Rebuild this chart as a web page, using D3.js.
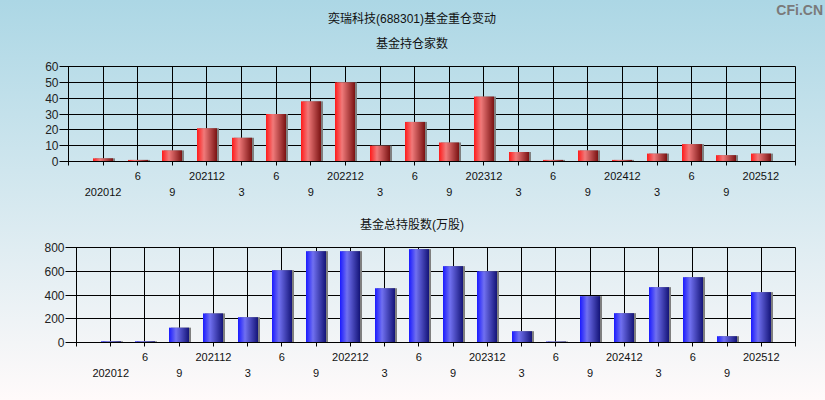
<!DOCTYPE html>
<html><head><meta charset="utf-8">
<script src="https://cdn.jsdelivr.net/npm/d3@7"></script>
<style>html,body{margin:0;padding:0;overflow:hidden}svg{display:block}</style>
</head><body>
<script>
const categories = ["202012","202106","202109","202112","202203","202206","202209","202212","202303","202306","202309","202312","202403","202406","202409","202412","202503","202506","202509","202512"];
const tickLabels = ["202012","6","9","202112","3","6","9","202212","3","6","9","202312","3","6","9","202412","3","6","9","202512"];
const fundCounts = [2,1,7,21,15,30,38,50,10,25,12,41,6,1,7,1,5,11,4,5];
const fundShares = [10,10,125,245,213,609,769,769,457,786,643,600,95,8,390,247,466,550,53,424];
const countTicks = [0,10,20,30,40,50,60];
const shareTicks = [0,200,400,600,800];

const W = 825, H = 400;
const svg = d3.select("body").append("svg").attr("width", W).attr("height", H);
const defs = svg.append("defs");
const bg = defs.append("linearGradient").attr("id","bg").attr("x1",0).attr("y1",0).attr("x2",0).attr("y2",1);
bg.append("stop").attr("offset","0%").attr("stop-color","#acd7e5");
bg.append("stop").attr("offset","100%").attr("stop-color","#fffafa");
function barGrad(id, c0, c1, c2) {
  const g = defs.append("linearGradient").attr("id", id).attr("x1",0).attr("y1",0).attr("x2",1).attr("y2",0);
  g.append("stop").attr("offset","0%").attr("stop-color",c0);
  g.append("stop").attr("offset","35%").attr("stop-color",c1);
  g.append("stop").attr("offset","100%").attr("stop-color",c2);
}
barGrad("gRed", "#ff1a1a", "#f07a7a", "#7a1212");
barGrad("gBlue", "#1a1aff", "#7070f0", "#141478");

svg.append("rect").attr("width",W).attr("height",H).attr("fill","url(#bg)");

const cjk = "'Liberation Sans', Arial, 'Noto Sans CJK SC', sans-serif";

svg.append("text").attr("x",412).attr("y",23).attr("text-anchor","middle")
  .attr("font-family",cjk).attr("font-size",12).attr("fill","#111").text("奕瑞科技(688301)基金重仓变动");
svg.append("text").attr("x",823).attr("y",15).attr("text-anchor","end")
  .attr("font-family","'Liberation Sans', Arial, sans-serif").attr("font-weight","bold").attr("font-size",14).attr("fill","#7a7a7a").text("CFi.CN");

function panel(opts) {
  const {left, right, top, bottom, values, ticks, max, grad, title, titleY, tickLen, row1, row2} = opts;
  const x = d3.scaleLinear().domain([-1, categories.length]).range([left, right]);
  const y = d3.scaleLinear().domain([0, max]).range([bottom, top]);
  const g = svg.append("g");
  g.append("text").attr("x",412).attr("y",titleY).attr("text-anchor","middle")
    .attr("font-family",cjk).attr("font-size",12).attr("fill","#111").text(title);
  const px = v => Math.round(v - 0.5) + 0.5;
  ticks.forEach(t => {
    const yy = px(y(t));
    g.append("line").attr("x1",left - tickLen).attr("x2",right).attr("y1",yy).attr("y2",yy)
      .attr("stroke","#000").attr("stroke-width",1);
    g.append("text").attr("x",left - tickLen - 1).attr("y",yy).attr("dy","0.36em").attr("text-anchor","end")
      .attr("font-family","'Liberation Sans', Arial, sans-serif").attr("font-size",12).attr("fill","#222").text(t);
  });
  d3.range(-1, categories.length + 1).forEach(i => {
    const xx = px(x(i));
    g.append("line").attr("x1",xx).attr("x2",xx).attr("y1",top).attr("y2",bottom + 4)
      .attr("stroke","#000").attr("stroke-width",1);
  });
  const bw = 20;
  g.selectAll("rect.sh").data(values).join("rect").attr("class","sh")
    .attr("x",(d,i)=>Math.round(x(i)) - bw/2 + 2).attr("y",d=>y(d)).attr("width",bw).attr("height",d=>bottom - y(d))
    .attr("fill","#7f7f7f");
  g.selectAll("rect.bar").data(values).join("rect").attr("class","bar")
    .attr("x",(d,i)=>Math.round(x(i)) - bw/2).attr("y",d=>y(d)).attr("width",bw).attr("height",d=>bottom - y(d))
    .attr("fill","url(#" + grad + ")");
  g.append("line").attr("x1",left).attr("x2",right).attr("y1",px(y(0))).attr("y2",px(y(0))).attr("stroke","#000");
  g.selectAll("text.xl").data(tickLabels).join("text").attr("class","xl")
    .attr("x",(d,i)=>x(i)).attr("y",(d,i)=> i % 2 === 0 ? row2 : row1).attr("text-anchor","middle")
    .attr("font-family","'Liberation Sans', Arial, sans-serif").attr("font-size",11).attr("fill","#111").text(d=>d);
}

panel({left:68.5, right:795.5, top:66.5, bottom:161.5, values:fundCounts, ticks:countTicks, max:60,
  grad:"gRed", title:"基金持仓家数", titleY:48, tickLen:9, row1:180, row2:196});
panel({left:76.5, right:795.5, top:247.5, bottom:342.5, values:fundShares, ticks:shareTicks, max:800,
  grad:"gBlue", title:"基金总持股数(万股)", titleY:229, tickLen:11, row1:361, row2:377});
</script>
</body></html>
